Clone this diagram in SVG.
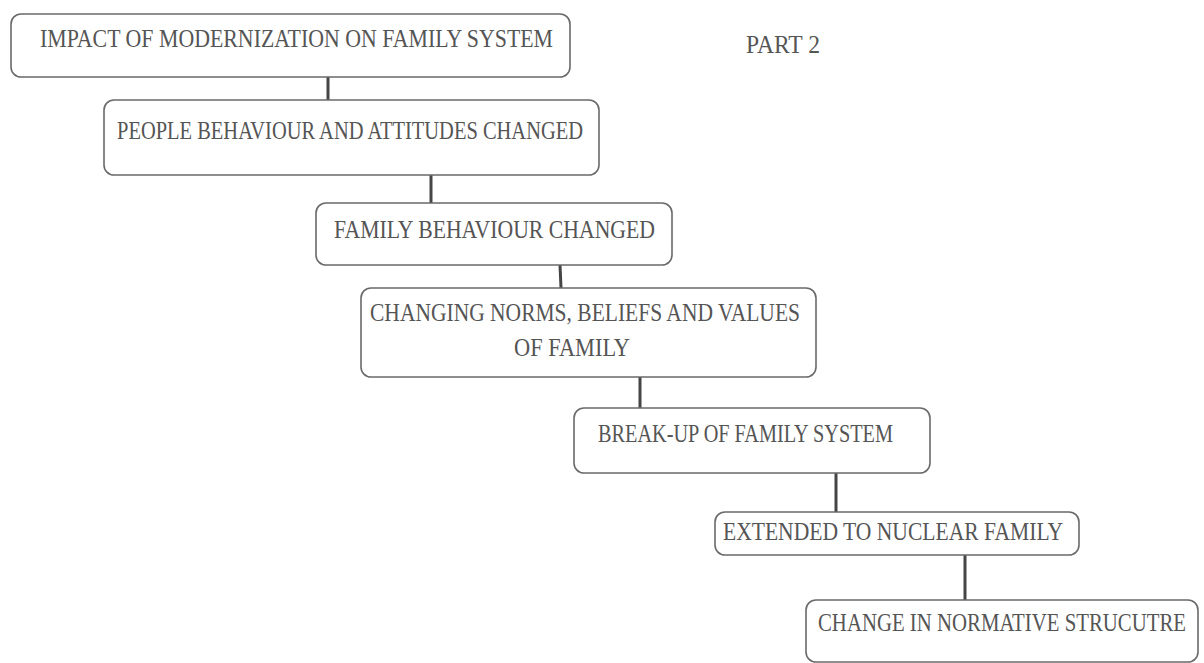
<svg xmlns="http://www.w3.org/2000/svg" width="1204" height="663" viewBox="0 0 1204 663">
<style>
.box{fill:#fff;stroke:#6a6a6a;stroke-width:1.6}
.t{font-family:"Liberation Serif","Times New Roman",serif;font-size:26px;fill:#555}
.c{stroke:#454545;stroke-width:3;fill:none}
</style>
<rect width="1204" height="663" fill="#fff"/>
<g id="connectors">
<line class="c" x1="328" y1="77" x2="328" y2="100"/>
<line class="c" x1="431" y1="175" x2="431" y2="203"/>
<line class="c" x1="560" y1="265" x2="561" y2="288"/>
<line class="c" x1="640" y1="377" x2="640" y2="408"/>
<line class="c" x1="836" y1="473" x2="836" y2="512"/>
<line class="c" x1="965" y1="555" x2="965" y2="600"/>
</g>
<g id="n1"><rect class="box" x="11" y="14" width="559" height="63" rx="10"/><text class="t" x="40" y="47" textLength="513" lengthAdjust="spacingAndGlyphs">IMPACT OF MODERNIZATION ON FAMILY SYSTEM</text></g>
<g id="part"><text class="t" x="746" y="53" font-size="22" textLength="74" lengthAdjust="spacingAndGlyphs">PART 2</text></g>
<g id="n2"><rect class="box" x="104" y="100" width="495" height="75" rx="10"/><text class="t" x="117" y="139" textLength="466" lengthAdjust="spacingAndGlyphs">PEOPLE BEHAVIOUR AND ATTITUDES CHANGED</text></g>
<g id="n3"><rect class="box" x="316" y="203" width="356" height="62" rx="10"/><text class="t" x="334" y="238" textLength="321" lengthAdjust="spacingAndGlyphs">FAMILY BEHAVIOUR CHANGED</text></g>
<g id="n4"><rect class="box" x="361" y="288" width="455" height="89" rx="10"/><text class="t" x="370" y="321" textLength="430" lengthAdjust="spacingAndGlyphs">CHANGING NORMS, BELIEFS AND VALUES</text><text class="t" x="514" y="356" textLength="116" lengthAdjust="spacingAndGlyphs">OF FAMILY</text></g>
<g id="n5"><rect class="box" x="574" y="408" width="356" height="65" rx="10"/><text class="t" x="598" y="442" textLength="295" lengthAdjust="spacingAndGlyphs">BREAK-UP OF FAMILY SYSTEM</text></g>
<g id="n6"><rect class="box" x="715" y="512" width="364" height="43" rx="10"/><text class="t" x="723" y="540" textLength="340" lengthAdjust="spacingAndGlyphs">EXTENDED TO NUCLEAR FAMILY</text></g>
<g id="n7"><rect class="box" x="806" y="600" width="392" height="62" rx="10"/><text class="t" x="818" y="631" textLength="368" lengthAdjust="spacingAndGlyphs">CHANGE IN NORMATIVE STRUCUTRE</text></g>
</svg>
